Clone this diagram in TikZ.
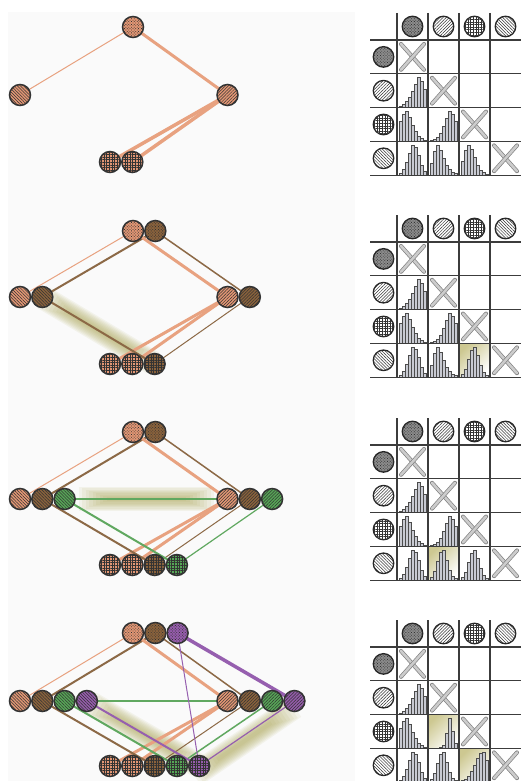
\documentclass[tikz,border=0pt]{standalone}
\usetikzlibrary{patterns,patterns.meta}
\definecolor{peach}{RGB}{226,150,116}
\definecolor{peachE}{RGB}{232,162,128}
\definecolor{brownN}{RGB}{138,98,60}
\definecolor{brownE}{RGB}{140,105,70}
\definecolor{greenN}{RGB}{86,166,86}
\definecolor{greenE}{RGB}{96,168,96}
\definecolor{purpN}{RGB}{150,92,172}
\definecolor{purpE}{RGB}{150,95,175}
\definecolor{bandc}{RGB}{168,164,78}
\definecolor{hlc}{RGB}{205,200,145}
\definecolor{linec}{RGB}{60,60,60}
\definecolor{barc}{RGB}{200,202,210}
\definecolor{bgc}{RGB}{250,250,250}
\pgfdeclarelayer{bgl}
\pgfdeclarelayer{bands}
\pgfdeclarelayer{edges}
\pgfsetlayers{bgl,bands,edges,main}
\tikzset{
  gnode/.style={circle, inner sep=0pt, minimum size=21pt, draw=black!80, line width=1.5pt},
  tcirc/.style={circle, inner sep=0pt, minimum size=20.5pt, draw=black!85, line width=1.3pt, fill=white},
  pat dots/.style={postaction={pattern={Dots[distance=2pt, radius=0.55pt, angle=45]}, pattern color=black!80}},
  pat nw/.style={postaction={pattern={Lines[angle=-45, distance=2.2pt, line width=0.5pt]}, pattern color=black!80}},
  pat ne/.style={postaction={pattern={Lines[angle=45, distance=2.2pt, line width=0.5pt]}, pattern color=black!80}},
  pat grid/.style={postaction={pattern={Hatch[distance=2.6pt, line width=0.5pt, angle=0]}, pattern color=black!80}},
  tline/.style={draw=linec, line width=1.3pt},
  xmark/.style={draw=black!50, line width=0.7pt, double=black!20, double distance=2.6pt, line cap=round},
  bar/.style={draw=black!70, fill=barc, line width=0.5pt},
  bandline/.style={draw=bandc, opacity=0.09, line cap=butt},
}
\newcommand\gn[5]{\node[gnode, fill=#4, #5] (#1) at (#2,#3) {};}
\newcommand\gedge[4]{\draw[draw=#1, line width=#2pt] (#3.center) -- (#4.center);}
\newcommand\gband[4]{%
  \foreach \w/\s in {24/0,21.5/3.5,19/7,16.5/10.5,14/14,11.5/17.5,9/21,6.5/24.5,4/28} {%
    \pgfmathsetmacro\sa{#3+\s}\pgfmathsetmacro\sb{#4+\s}%
    \draw[bandline, line width=\w pt, shorten <=\sa pt, shorten >=\sb pt] (#1) -- (#2);}}
\newcommand\tblgrid[2]{% #1 id, #2 Y0
  \foreach \k in {0,...,4} \draw[tline] (370,{#2+\k*33.8}) -- (521,{#2+\k*33.8});
  \foreach \c in {0,...,3} \draw[tline] ({397+\c*31},{#2-27}) -- ({397+\c*31},{#2+4*33.8});
  \node[tcirc, fill=black!45, pat dots] (#1h1) at (412.5,{#2-13.5}) {};
  \node[tcirc, pat ne] (#1h2) at (443.5,{#2-13.5}) {};
  \node[tcirc, pat grid] (#1h3) at (474.5,{#2-13.5}) {};
  \node[tcirc, pat nw] (#1h4) at (505.5,{#2-13.5}) {};
  \node[tcirc, fill=black!45, pat dots] (#1r1) at (383.5,{#2+16.9}) {};
  \node[tcirc, pat ne] (#1r2) at (383.5,{#2+16.9+33.8}) {};
  \node[tcirc, pat grid] (#1r3) at (383.5,{#2+16.9+2*33.8}) {};
  \node[tcirc, pat nw] (#1r4) at (383.5,{#2+16.9+3*33.8}) {};
  \foreach \r in {0,...,3} {%
    \draw[xmark] ({401+\r*31},{#2+\r*33.8+4}) -- ({424+\r*31},{#2+(\r+1)*33.8-4});
    \draw[xmark] ({424+\r*31},{#2+\r*33.8+4}) -- ({401+\r*31},{#2+(\r+1)*33.8-4});}
}
\newcommand\hist[4]{% #1 Y0, #2 row, #3 col, #4 heights
  \foreach \h [count=\i] in {#4} {\ifdim\h pt>0pt
    \draw[bar] ({397+(#3-1)*31+2+(\i-1)*3},{#1+#2*33.8}) rectangle ++(3,{-\h});\fi}}
\newcommand\hlcell[3]{% #1 Y0, #2 row, #3 col
  \shade[top color=hlc, bottom color=white, shading angle=45] ({397+(#3-1)*31},{#1+(#2-1)*33.8}) rectangle ++(31,33.8);}
\newcommand\stdhists[1]{%
  \hist{#1}{2}{1}{1.5,3,6,10,16,23,30,26,18}
  \hist{#1}{3}{1}{20,27,30,24,16,10,5,3,1.5}
  \hist{#1}{3}{2}{1,2,4,8,15,23,30,27,20}
  \hist{#1}{4}{1}{2,6,13,22,30,28,20,10,4}}
\begin{document}
\begin{tikzpicture}[x=1pt,y=-1pt]
\useasboundingbox (0,0) rectangle (521,781);
\begin{pgfonlayer}{bgl}
\fill[bgc] (8,12) rectangle (355,781);
\end{pgfonlayer}
% ---------------- panel 1
\gn{p1t1}{133}{27}{peach}{pat dots}
\gn{p1l1}{20}{95}{peach}{pat nw}
\gn{p1r1}{227.5}{95}{peach}{pat ne}
\gn{p1b1}{110}{162}{peach}{pat grid}
\gn{p1b2}{132.3}{162}{peach}{pat grid}
% ---------------- panel 2
\gn{p2t1}{133}{231}{peach}{pat dots}
\gn{p2t2}{155.3}{231}{brownN}{pat dots}
\gn{p2l1}{20}{297}{peach}{pat nw}
\gn{p2l2}{42.3}{297}{brownN}{pat nw}
\gn{p2r1}{227.5}{297}{peach}{pat ne}
\gn{p2r2}{249.8}{297}{brownN}{pat ne}
\gn{p2b1}{110}{364}{peach}{pat grid}
\gn{p2b2}{132.3}{364}{peach}{pat grid}
\gn{p2b3}{154.6}{364}{brownN}{pat grid}
% ---------------- panel 3
\gn{p3t1}{133}{432}{peach}{pat dots}
\gn{p3t2}{155.3}{432}{brownN}{pat dots}
\gn{p3l1}{20}{499}{peach}{pat nw}
\gn{p3l2}{42.3}{499}{brownN}{pat nw}
\gn{p3l3}{64.6}{499}{greenN}{pat nw}
\gn{p3r1}{227.5}{499}{peach}{pat ne}
\gn{p3r2}{249.8}{499}{brownN}{pat ne}
\gn{p3r3}{272.1}{499}{greenN}{pat ne}
\gn{p3b1}{110}{565}{peach}{pat grid}
\gn{p3b2}{132.3}{565}{peach}{pat grid}
\gn{p3b3}{154.6}{565}{brownN}{pat grid}
\gn{p3b4}{176.9}{565}{greenN}{pat grid}
% ---------------- panel 4
\gn{p4t1}{133}{633}{peach}{pat dots}
\gn{p4t2}{155.3}{633}{brownN}{pat dots}
\gn{p4t3}{177.6}{633}{purpN}{pat dots}
\gn{p4l1}{20}{701}{peach}{pat nw}
\gn{p4l2}{42.3}{701}{brownN}{pat nw}
\gn{p4l3}{64.6}{701}{greenN}{pat nw}
\gn{p4l4}{86.9}{701}{purpN}{pat nw}
\gn{p4r1}{227.5}{701}{peach}{pat ne}
\gn{p4r2}{249.8}{701}{brownN}{pat ne}
\gn{p4r3}{272.1}{701}{greenN}{pat ne}
\gn{p4r4}{294.4}{701}{purpN}{pat ne}
\gn{p4b1}{110}{766}{peach}{pat grid}
\gn{p4b2}{132.3}{766}{peach}{pat grid}
\gn{p4b3}{154.6}{766}{brownN}{pat grid}
\gn{p4b4}{176.9}{766}{greenN}{pat grid}
\gn{p4b5}{199.2}{766}{purpN}{pat grid}
\begin{pgfonlayer}{bands}
\gband{p2l2.center}{p2b3.center}{2}{2}
\gband{p3l3.center}{p3r3.center}{14}{58}
\gband{p4l4.center}{p4b5.center}{4}{0}
\gband{[yshift=-6pt]p4r4.center}{[yshift=-6pt]p4b5.center}{0}{-6}
\end{pgfonlayer}
\begin{pgfonlayer}{edges}
% panel 1
\gedge{peachE}{1}{p1t1}{p1l1}
\gedge{peachE}{3}{p1t1}{p1r1}
\gedge{peachE}{3.5}{p1r1}{p1b1}
\gedge{peachE}{3.5}{p1r1}{p1b2}
% panel 2
\gedge{peachE}{1}{p2t1}{p2l1}
\gedge{brownE}{2}{p2t2}{p2l2}
\gedge{peachE}{3}{p2t1}{p2r1}
\gedge{brownE}{1.5}{p2t2}{p2r2}
\gedge{peachE}{3}{p2r1}{p2b1}
\gedge{peachE}{3}{p2r1}{p2b2}
\gedge{brownE}{2}{p2l2}{p2b3}
\gedge{brownE}{1}{p2r2}{p2b3}
% panel 3
\gedge{peachE}{1}{p3t1}{p3l1}
\gedge{brownE}{2}{p3t2}{p3l2}
\gedge{peachE}{3}{p3t1}{p3r1}
\gedge{brownE}{1.5}{p3t2}{p3r2}
\gedge{peachE}{3}{p3r1}{p3b1}
\gedge{peachE}{3}{p3r1}{p3b2}
\gedge{brownE}{2}{p3l2}{p3b3}
\gedge{brownE}{1}{p3r2}{p3b3}
\gedge{greenE}{2}{p3l3}{p3r3}
\gedge{greenE}{2}{p3l3}{p3b4}
\gedge{greenE}{1.2}{p3r3}{p3b4}
% panel 4
\gedge{peachE}{1}{p4t1}{p4l1}
\gedge{brownE}{2}{p4t2}{p4l2}
\gedge{peachE}{3}{p4t1}{p4r1}
\gedge{brownE}{1.5}{p4t2}{p4r2}
\gedge{peachE}{3}{p4r1}{p4b1}
\gedge{peachE}{3}{p4r1}{p4b2}
\gedge{brownE}{2}{p4l2}{p4b3}
\gedge{brownE}{1}{p4r2}{p4b3}
\gedge{greenE}{1.2}{p4l3}{p4r3}
\gedge{greenE}{2}{p4l3}{p4b4}
\gedge{greenE}{1.5}{p4r3}{p4b4}
\gedge{purpE}{3.5}{p4t3}{p4r4}
\gedge{purpE}{1}{p4t3}{p4b5}
\gedge{purpE}{2}{p4l4}{p4b5}
\gedge{purpE}{1.2}{p4r4}{p4b5}
\end{pgfonlayer}
% ---------------- tables
\hlcell{242}{4}{3}
\hlcell{445}{4}{2}
\hlcell{647}{3}{2}
\hlcell{647}{4}{3}
\stdhists{40}
\hist{40}{4}{2}{12,24,30,25,17,10,6,3,1.5}
\hist{40}{4}{3}{14,25,30,26,18,10,5,2.5,1}
\stdhists{242}
\hist{242}{4}{2}{12,24,30,25,17,10,6,3,1.5}
\hist{242}{4}{3}{3,8,18,27,30,22,12,5,2}
\stdhists{445}
\hist{445}{4}{2}{3,9,19,28,30,20,10,4,2}
\hist{445}{4}{3}{3,8,18,27,30,22,12,5,2}
\hist{647}{2}{1}{1.5,3,6,10,16,23,30,26,18}
\hist{647}{3}{1}{20,27,30,24,16,10,5,3,1.5}
\hist{647}{3}{2}{0,0,0,1,3,15,30,17,5}
\hist{647}{4}{1}{2,6,13,22,30,28,20,10,4}
\hist{647}{4}{2}{3,9,19,28,30,20,10,4,2}
\hist{647}{4}{3}{2,3,6,11,17,24,29,30,22}
\tblgrid{ta}{40}
\tblgrid{tb}{242}
\tblgrid{tc}{445}
\tblgrid{td}{647}
\end{tikzpicture}
\end{document}
